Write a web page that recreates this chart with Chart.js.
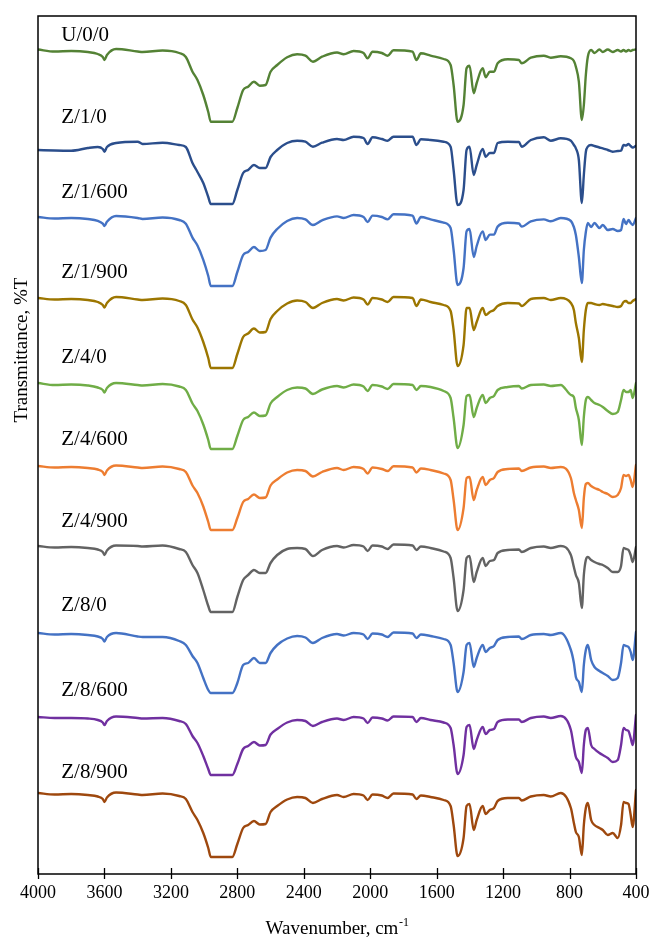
<!DOCTYPE html>
<html><head><meta charset="utf-8">
<script src="https://cdn.jsdelivr.net/npm/chart.js@4.4.1/dist/chart.umd.min.js"></script>
<style>html,body{margin:0;padding:0;background:#fff;}#wrap{width:653px;height:940px;}</style>
</head><body><div id="wrap"><canvas id="c" width="653" height="940"></canvas></div>
<script>
const wavenumbers = [4000,3900,3800,3700,3640,3610,3600,3585,3530,3400,3370,3250,3150,3110,3070,3040,3005,2975,2960,2830,2800,2765,2735,2700,2665,2630,2600,2560,2500,2440,2390,2345,2290,2200,2160,2100,2040,2016,1986,1930,1895,1860,1745,1722,1695,1637,1558,1516,1498,1474,1438,1420,1402,1377,1359,1323,1305,1280,1255,1233,1172,1105,1088,1033,955,913,853,792,774,762,744,726,714,702,690,670,650,620,600,570,540,510,490,475,460,445,432,420,400];

const U_0_0 = [950.5,948.5,949,948,946,943,940,945,951,948.5,948,949.5,947,943,928.3,920,905,888,878.3,878.3,892,910,913.3,918.3,914.3,915,928.3,935,942.7,945.7,944.3,938.3,943.3,947.5,945.7,949,947,941.7,948.3,947,944.3,949.7,948.3,940,946.7,944.3,941,935,915,878.3,895,931.7,934.3,906.7,917,931.7,922.7,928.3,928.3,936.7,940.7,940,936.7,942.3,944.3,942.3,943.7,941.7,939,933.3,918.3,880,895,925,943.3,950,947,950.5,948,950.5,948,950,948.5,950,948.5,950,949,950,950.5];
const Z_1_0 = [850,849.5,849.3,852,853,851,848.3,853,857,858.3,856,857.3,855,853,837,828,817,803,796,796,810,827,830,835,832,832,843,850,857,859.3,858.3,853.3,857.3,861,860,863.3,862,856,862.7,861,859.3,863.3,863.3,855,860.7,860,858.3,853.3,830,795,810,850,853.3,825,835,851,843.3,847,847,857,858.3,858,853.3,860,862.7,859.3,861.7,859.3,855,851.7,840,797,825,848,853.3,855,854,852.5,851.7,850,848.3,849,849.3,855,854.5,856,854,852.5,854.3];
const Z_1_600 = [783,781.5,782,781,779.2,776.3,774,778.2,784,782,781,782.5,780,776.3,762.4,754.5,740.2,724,714,714,728,745,748,753,749,750,762.4,771,779,782,780.6,775,779.6,783.6,782,785,783,778,784.4,783,780.6,785.7,784.4,776.5,783,780.6,777.4,772,750,715,732,768.6,771,743,754,768.6,760,765.4,765.4,773.4,777.2,776.5,773.4,778.7,780.6,778.7,782,779,773,765,743,717,750,768,777,773,777,772,775,770,771,769,770,781,776,780,777,775,782];
const Z_1_900 = [702,700.5,701,700,698,695,692.5,697,703,700.5,700,701.5,699,695,680.5,672.5,658,642,632,632,646,663,666.5,671.5,667.5,668,681,689,696.5,699.5,698,692,697,701,699.5,702.5,700.5,695.5,702,700.5,698,703,702,694,700.5,698,695,689,670,634,655,692,692,670,678,692,685,688,690,694,697,696.5,694,701,702,700,702,697,690,677,662,638,670,690,697,697,696,695,696,695,694,693,694,698,699,697,697,699,701];
const Z_4_0 = [617,615,615.5,614.5,612.5,610,607.5,612,617,615,614.5,616,613.5,610,596.5,589,575.5,560,551,551,564,580,583,587.5,584,584.5,596.5,603,610,612.5,611.5,606,610.5,614,612.5,615.5,613.5,609,615,613.5,611,616,615,610,614,613,609,602,582,552,575,604,605,583,592,605,597,602,604,610,613,614,611.5,615,615.5,614,615,605,603,592,580,555,583,600,603,600,597,595,593,589,586,588,600,610,608,608,610,602,617];
const Z_4_600 = [534,532.5,533,532,530.5,528,525,529.5,534.5,532.5,532,533.5,531,528,514.5,507,493.5,478,470,470,482,498,501,505.5,502,502.5,514.5,520.5,527.5,530,529,523.5,528,532,530,533,531,526.5,532.5,531,529,533.7,532.5,527.5,531.5,530,526.5,520,500,470,492,522,523,500,510,523,515,520,522,528,531,531.5,529,532.5,533.5,532,533,522,507,500,490,472,502,516,517,514,512,510,508,506,503,505,512,525,524,525,520,513,535];
const Z_4_900 = [454,452.5,453,452,450.5,448,445,449.5,454.5,454,453.5,454.5,451,448,435,427,410,394,388,388,403,420,425,430,427,427,437,445,451,452,451,444,450,454,452.5,455,453.5,449,454.5,453.5,451,455.5,454.5,450,453.5,452,448.5,442,422,389,410,442,444,418,428,442,434,439,440,447,450,450.5,448,452,453.5,452,454,445,433,425,417,392,425,440,443,440,438,436,435,432,428,428,434,452,451,450,445,438,453];
const Z_8_0 = [367,365.5,366,365,363.5,361,358.5,363,367,363.5,363,363,359,355,344,337,322,310,307,307,317,335,337,342,337,337,347,355,361.5,364,362.5,357,362,366,364.5,367,365.5,361,366.5,365.5,363,367.5,366.5,362,365.5,364,361,355,337,308,328,355,357,333,342,355,348,352,354,360,363,363.5,361,365,366,365,367,350,337,323,318,308,335,350,355,340,333,329,327,324,320,322,337,355,354,353,348,340,368];
const Z_8_600 = [283,282,282,281.5,280,277.5,275,279,283.5,282,281.5,282,279,276,264,257,244,231,225,225,236,251,254,258,254.5,255,265.5,271,277.5,280,279,274,278,281.5,280,283,281.5,277,282.5,281.5,279.5,283.5,283,278,282,280,277.5,272,255,226,245,273,275,251,260,273,266,270,271,278,280.5,280.5,278,282,283.5,282,284,270,253,243,238,227,255,270,272,255,251,247,245,242,238,240,255,272,270,269,262,255,285];
const Z_8_900 = [207,205.5,206,205,203.5,201,198,202.5,207.5,205.5,205,206.5,204,201,188,180,167,152,143,143,156,172,175,179,175.5,176,188,194,200.5,203,202,197,201,205,203,206,204.5,200,205.5,204.5,202,206.5,205.5,201,204.5,203,200,194,175,144,162,194,196,170,180,194,186,190,192,199,202,202,199.5,203.5,205,203.5,207,192,177,168,163,145,175,192,197,180,175,172,170,165,167,162,175,198,197,196,185,173,210];

const seriesNames = ['U/0/0','Z/1/0','Z/1/600','Z/1/900','Z/4/0','Z/4/600','Z/4/900','Z/8/0','Z/8/600','Z/8/900'];
const seriesValues = [U_0_0,Z_1_0,Z_1_600,Z_1_900,Z_4_0,Z_4_600,Z_4_900,Z_8_0,Z_8_600,Z_8_900];
const xTicks = [4000,3600,3200,2800,2400,2000,1600,1200,800,400];

// styling / layout (not data)
const colors = ['#548235','#2B4E8C','#4472C4','#9C7600','#70AD47','#ED7D31','#636363','#4472C4','#7030A0','#9E480E'];
const labelX = 3860;
const labelY = [959.3,877.5,802,722.3,637.3,555.3,473.3,389.3,304.3,222.3];
const SERIF = '"Liberation Serif", "Times New Roman", serif';

const datasets = seriesNames.map((name, i) => ({
  label: name,
  data: wavenumbers.map((w, j) => ({x: w, y: seriesValues[i][j]})),
  borderColor: colors[i],
  borderWidth: 2.4,
  pointRadius: 0,
  cubicInterpolationMode: 'monotone',
  borderJoinStyle: 'round',
  borderCapStyle: 'round',
  fill: false
}));

const decor = {
  id: 'decor',
  afterDraw(chart) {
    const ctx = chart.ctx, a = chart.chartArea;
    const xs = chart.scales.x, ys = chart.scales.y;
    ctx.save();
    ctx.strokeStyle = '#000'; ctx.lineWidth = 1.5;
    ctx.strokeRect(a.left, a.top, a.right - a.left, a.bottom - a.top);
    ctx.lineWidth = 1.3;
    xTicks.forEach(v => {
      const px = Math.round(xs.getPixelForValue(v)) + 0.5;
      ctx.beginPath(); ctx.moveTo(px, a.bottom - 6); ctx.lineTo(px, a.bottom + 5); ctx.stroke();
    });
    ctx.fillStyle = '#000';
    ctx.font = '21px ' + SERIF;
    ctx.textAlign = 'left'; ctx.textBaseline = 'alphabetic';
    seriesNames.forEach((n, i) => {
      ctx.fillText(n, xs.getPixelForValue(labelX), ys.getPixelForValue(labelY[i]));
    });
    ctx.save();
    ctx.translate(22, 350); ctx.rotate(-Math.PI / 2);
    ctx.font = '19px ' + SERIF; ctx.textAlign = 'center'; ctx.textBaseline = 'middle';
    ctx.fillText('Transmittance, %T', 0, 0);
    ctx.restore();
    const main = 'Wavenumber, cm', sup = '-1';
    ctx.font = '19px ' + SERIF;
    const w1 = ctx.measureText(main).width;
    ctx.font = '12px ' + SERIF;
    const w2 = ctx.measureText(sup).width;
    const cx = (a.left + a.right) / 2;
    const sx = cx - (w1 + w2) / 2;
    ctx.textAlign = 'left';
    ctx.font = '19px ' + SERIF;
    ctx.fillText(main, sx, 934);
    ctx.font = '12px ' + SERIF;
    ctx.fillText(sup, sx + w1 + 0.5, 926);
    ctx.restore();
  }
};

new Chart(document.getElementById('c'), {
  type: 'line',
  data: { datasets },
  options: {
    responsive: false,
    devicePixelRatio: 1,
    animation: false,
    layout: { padding: { top: 16, right: 17, left: 0, bottom: 0 } },
    plugins: { legend: { display: false }, tooltip: { enabled: false } },
    scales: {
      x: {
        type: 'linear', reverse: true, min: 400, max: 4000,
        afterBuildTicks: s => { s.ticks = xTicks.map(v => ({ value: v })); },
        ticks: { autoSkip: false, maxRotation: 0, minRotation: 0, padding: 8, color: '#000',
                 font: { family: SERIF, size: 18 }, callback: v => String(v) },
        grid: { display: false, drawTicks: false },
        border: { display: false },
        afterFit: s => { s.height = 66; s.paddingLeft = 0; s.paddingRight = 0; }
      },
      y: {
        type: 'linear', min: 126, max: 984,
        ticks: { display: false },
        grid: { display: false, drawTicks: false },
        border: { display: false },
        afterFit: s => { s.width = 38; }
      }
    }
  },
  plugins: [decor]
});
</script>
</body></html>
